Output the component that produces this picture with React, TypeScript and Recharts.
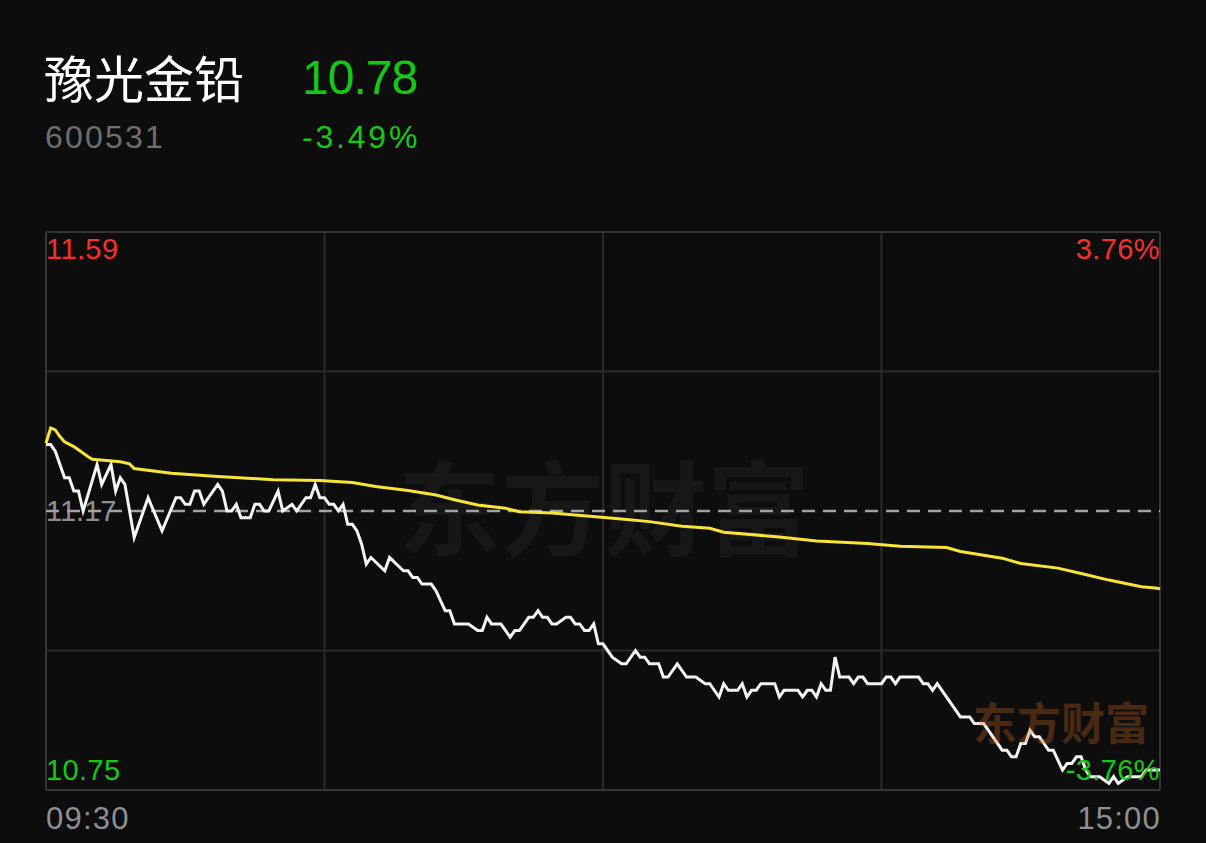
import { LineChart, Line, XAxis, YAxis, ReferenceLine } from "recharts";

// minute index (0 = 09:30, 240 = 15:00) and last price at that minute
const priceMinutes = [
  0, 1, 2, 4, 5, 6, 7, 8, 11, 12, 14, 15, 16, 17, 19, 22, 25, 28, 29, 30, 31, 32, 33, 34, 37, 38, 39, 40, 41, 42,
  44, 45, 46, 47, 48, 50, 51, 53, 54, 56, 57, 58, 59, 60, 61, 62, 63, 64, 65, 66, 67, 68, 69, 70, 73, 74, 77, 78,
  79, 80, 81, 83, 84, 86, 87, 88, 91, 93, 94, 95, 96, 98, 100, 101, 102, 104, 105, 106, 107, 108, 109, 110, 112,
  113, 114, 115, 116, 117, 118, 119, 120, 122, 124, 125, 127, 128, 129, 130, 132, 133, 134, 136, 138, 140, 142,
  143, 145, 146, 147, 149, 150, 151, 152, 153, 154, 157, 158, 159, 162, 163, 164, 165, 166, 167, 168, 169, 170,
  171, 173, 174, 175, 176, 177, 180, 181, 182, 183, 184, 188, 189, 190, 191, 192, 197, 199, 200, 202, 203, 206,
  207, 208, 209, 210, 211, 212, 213, 214, 215, 216, 217, 219, 220, 221, 222, 223, 224, 225, 227, 229, 230, 231,
  233, 236, 237, 240,
];
const priceValues = [
  11.27, 11.27, 11.26, 11.22, 11.22, 11.2, 11.2, 11.17, 11.24, 11.21, 11.24, 11.2, 11.22, 11.21, 11.13, 11.19,
  11.14, 11.19, 11.19, 11.18, 11.18, 11.2, 11.2, 11.18, 11.21, 11.2, 11.17, 11.17, 11.18, 11.16, 11.16, 11.18,
  11.18, 11.17, 11.17, 11.2, 11.17, 11.18, 11.17, 11.19, 11.19, 11.21, 11.19, 11.19, 11.18, 11.18, 11.17, 11.18,
  11.15, 11.15, 11.14, 11.12, 11.09, 11.1, 11.08, 11.1, 11.08, 11.08, 11.07, 11.07, 11.06, 11.06, 11.05, 11.02,
  11.02, 11.0, 11.0, 10.99, 10.99, 11.01, 11.0, 11.0, 10.98, 10.99, 10.99, 11.01, 11.01, 11.02, 11.01, 11.01,
  11.0, 11.0, 11.01, 11.01, 11.0, 11.0, 10.99, 10.99, 11.0, 10.97, 10.97, 10.95, 10.94, 10.94, 10.96, 10.95,
  10.95, 10.94, 10.94, 10.92, 10.92, 10.94, 10.92, 10.92, 10.91, 10.91, 10.89, 10.91, 10.9, 10.9, 10.91, 10.89,
  10.9, 10.9, 10.91, 10.91, 10.89, 10.9, 10.9, 10.89, 10.9, 10.9, 10.89, 10.91, 10.9, 10.9, 10.95, 10.92, 10.92,
  10.91, 10.92, 10.92, 10.91, 10.91, 10.92, 10.92, 10.91, 10.92, 10.92, 10.91, 10.91, 10.9, 10.91, 10.86, 10.86,
  10.85, 10.85, 10.84, 10.81, 10.81, 10.8, 10.8, 10.82, 10.82, 10.84, 10.83, 10.83, 10.82, 10.81, 10.81, 10.78,
  10.79, 10.79, 10.8, 10.8, 10.78, 10.77, 10.77, 10.76, 10.77, 10.76, 10.77, 10.77, 10.78, 10.78,
];

// average price line
const avgMinutes = [
  0, 1, 2, 3, 4, 6, 9, 10, 16, 18, 19, 27, 37, 49, 59, 66, 71, 78, 84, 88, 93, 99, 102, 109, 119, 124, 130, 137,
  143, 146, 158, 166, 177, 184, 194, 197, 206, 210, 218, 223, 229, 236, 239, 240,
];
const avgValues = [
  11.272, 11.295, 11.292, 11.282, 11.274, 11.267, 11.252, 11.248, 11.244, 11.241, 11.234, 11.227, 11.222,
  11.217, 11.216, 11.213, 11.207, 11.201, 11.194, 11.187, 11.179, 11.174, 11.169, 11.167, 11.161, 11.158,
  11.154, 11.147, 11.144, 11.138, 11.131, 11.125, 11.121, 11.117, 11.115, 11.109, 11.099, 11.091, 11.084,
  11.076, 11.066, 11.056, 11.054, 11.053,
];

const priceHigh = 11.59;
const priceLow = 10.75;
const prevClose = 11.17;
const quarterLines = [11.38, 10.96];
const hourLines = [60, 120, 180];

const RED = "#f5302e";
const GREEN = "#14c814";
const NUM_FONT = "'Liberation Sans', Arial, sans-serif";
const CJK_FONT = "'Noto Sans CJK SC', sans-serif";

const priceData = priceMinutes.map((m, i) => ({ m, v: priceValues[i] }));
const avgData = avgMinutes.map((m, i) => ({ m, v: avgValues[i] }));

const label = (text: string, style: React.CSSProperties) => (
  <div
    style={{
      position: "absolute",
      fontFamily: NUM_FONT,
      lineHeight: 1,
      whiteSpace: "nowrap",
      ...style,
    }}
  >
    {text}
  </div>
);

export default function App() {
  return (
    <div
      style={{
        position: "fixed",
        left: 0,
        top: 0,
        width: 1206,
        height: 843,
        background: "#0d0d0d",
        overflow: "hidden",
      }}
    >
      {/* header */}
      <div
        style={{
          position: "absolute",
          left: 44,
          top: 51,
          fontFamily: CJK_FONT,
          fontSize: 50,
          lineHeight: 1,
          color: "#ffffff",
        }}
      >
        豫光金铅
      </div>
      {label("10.78", { left: 302, top: 54, fontSize: 48, letterSpacing: -1, color: GREEN })}
      {label("600531", { left: 45, top: 121, fontSize: 32, letterSpacing: 2.2, color: "#6e6e6e" })}
      {label("-3.49%", { left: 302, top: 121, fontSize: 32, letterSpacing: 2.8, color: GREEN })}

      {/* labels behind the chart */}
      {label("11.59", { left: 46, top: 235, fontSize: 29, letterSpacing: 0.4, color: RED })}
      {label("3.76%", { right: 1206 - 1160, top: 235, fontSize: 29, letterSpacing: 0.4, color: RED })}
      {label("11.17", { left: 46, top: 497, fontSize: 29, color: "#8e8e93" })}
      {label("10.75", { left: 46, top: 756, fontSize: 29, letterSpacing: 0.4, color: GREEN })}
      {label("09:30", { left: 46, top: 803, fontSize: 31, letterSpacing: 1.2, color: "#8e8e93" })}
      {label("15:00", { right: 1206 - 1161, top: 803, fontSize: 31, letterSpacing: 1.2, color: "#8e8e93" })}

      {/* big watermark */}
      <div
        style={{
          position: "absolute",
          left: 398,
          top: 452,
          fontFamily: CJK_FONT,
          fontWeight: 700,
          fontSize: 103,
          lineHeight: 1,
          color: "#171717",
          whiteSpace: "nowrap",
        }}
      >
        东方财富
      </div>

      <div style={{ position: "absolute", left: 0, top: 0 }}>
        <LineChart width={1206} height={843} margin={{ top: 232, left: 46, right: 46, bottom: 53 }}>
          <XAxis type="number" dataKey="m" domain={[0, 240]} hide />
          <YAxis type="number" domain={[priceLow, priceHigh]} hide allowDataOverflow />
          {quarterLines.map((y) => (
            <ReferenceLine key={`q-${y}`} y={y} stroke="#2b2b2b" strokeWidth={2} />
          ))}
          {hourLines.map((x) => (
            <ReferenceLine key={`h-${x}`} x={x} stroke="#2b2b2b" strokeWidth={2} />
          ))}
          <ReferenceLine y={priceHigh} stroke="#363636" strokeWidth={2} />
          <ReferenceLine y={priceLow} stroke="#363636" strokeWidth={2} />
          <ReferenceLine x={0} stroke="#363636" strokeWidth={2} />
          <ReferenceLine x={240} stroke="#363636" strokeWidth={2} />
          <ReferenceLine y={prevClose} stroke="#a2a2a6" strokeWidth={2.5} strokeDasharray="13 8" />
          <Line
            data={avgData}
            dataKey="v"
            type="linear"
            stroke="#f8e535"
            strokeWidth={3}
            dot={false}
            isAnimationActive={false}
          />
          <Line
            data={priceData}
            dataKey="v"
            type="linear"
            stroke="#f4f4f4"
            strokeWidth={3}
            dot={false}
            isAnimationActive={false}
          />
        </LineChart>
      </div>

      {/* overlays on top of the chart */}
      <div
        style={{
          position: "absolute",
          left: 973,
          top: 699,
          fontFamily: CJK_FONT,
          fontWeight: 700,
          fontSize: 44,
          lineHeight: 1,
          color: "#c8641e",
          opacity: 0.32,
          whiteSpace: "nowrap",
        }}
      >
        东方财富
      </div>
      {label("-3.76%", { right: 1206 - 1160, top: 756, fontSize: 29, letterSpacing: 0.4, color: GREEN })}
    </div>
  );
}
